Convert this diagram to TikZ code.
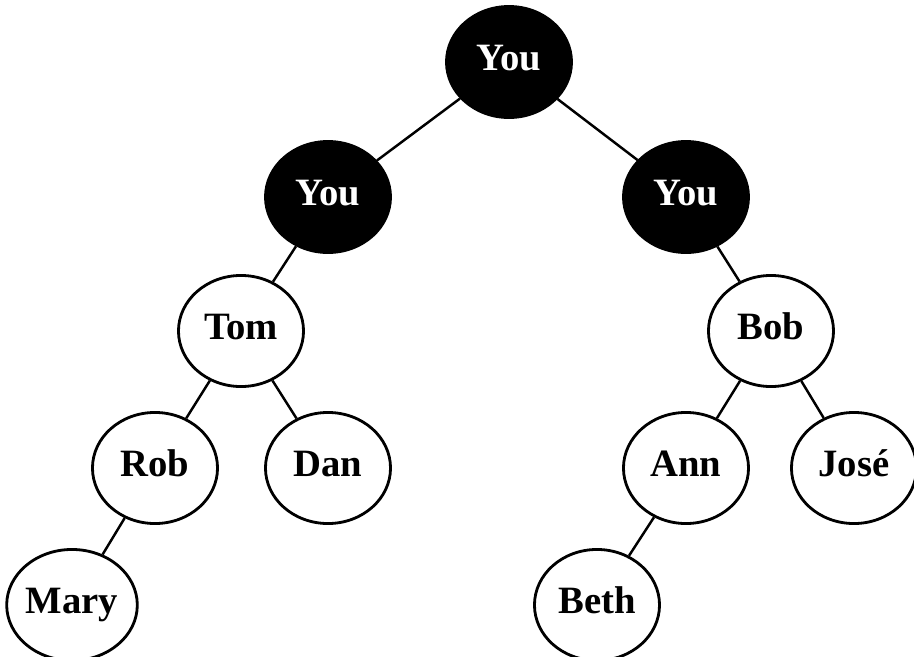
\documentclass[tikz,border=0pt]{standalone}
\usepackage{fontspec}
\setmainfont{Liberation Serif}
\usetikzlibrary{shapes,positioning}

\begin{document}
\begin{tikzpicture}[
    x=0.01cm, y=-0.01cm,
    person/.style={ellipse, draw, line width=0.8pt, minimum width=1.25cm, minimum height=1.11cm, inner sep=0pt, text height=1.45ex, text depth=0.45ex, font=\fontsize{11}{13}\selectfont\bfseries},
    you/.style={person, fill=black, text=white},
    link/.style={line width=0.7pt}
]
    \useasboundingbox (0,0) rectangle (914,657);

    % You nodes
    \node[you] (root) at (509,62) {You};
    \node[you] (youL) at (328,197) {You};
    \node[you] (youR) at (686,197) {You};

    % Left branch
    \node[person, fill=white] (tom) at (241,331) {Tom};
    \node[person, fill=white] (rob) at (155,468) {Rob};
    \node[person, fill=white] (dan) at (328,468) {Dan};
    \node[person, fill=white] (mary) at (72,605) {Mary};

    % Right branch
    \node[person, fill=white] (bob) at (771,331) {Bob};
    \node[person, fill=white] (ann) at (686,468) {Ann};
    \node[person, fill=white] (jose) at (854,468) {José};
    \node[person, fill=white] (beth) at (597,605) {Beth};

    % Links
    \draw[link] (root) -- (youL);
    \draw[link] (root) -- (youR);
    \draw[link] (youL) -- (tom);
    \draw[link] (youR) -- (bob);
    \draw[link] (tom) -- (rob);
    \draw[link] (tom) -- (dan);
    \draw[link] (rob) -- (mary);
    \draw[link] (bob) -- (ann);
    \draw[link] (bob) -- (jose);
    \draw[link] (ann) -- (beth);

\end{tikzpicture}
\end{document}
